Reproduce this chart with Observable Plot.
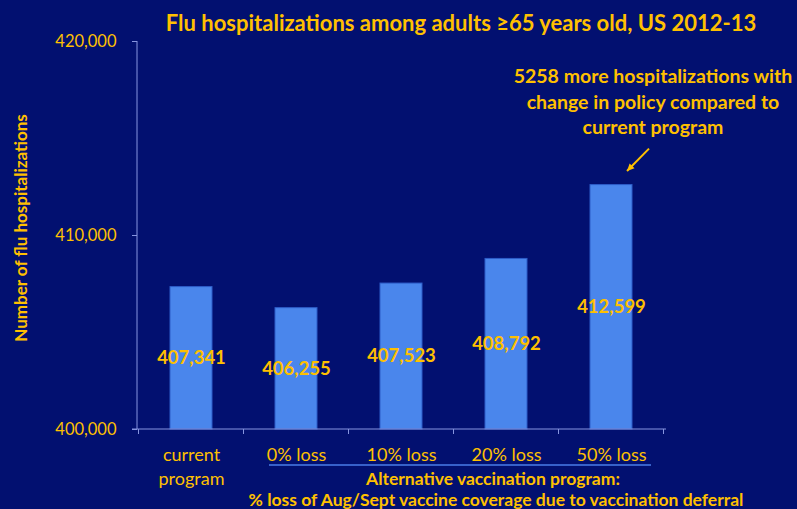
<!DOCTYPE html>
<html>
<head>
<meta charset="utf-8">
<script src="https://cdn.jsdelivr.net/npm/d3@7"></script>
<script src="https://cdn.jsdelivr.net/npm/@observablehq/plot@0.6"></script>
<style>
  html, body { margin: 0; padding: 0; background: #021070; }
  #chart { width: 797px; height: 509px; overflow: hidden; }
</style>
</head>
<body>
<div id="chart"></div>
<script>
const categories = ["current program", "0% loss", "10% loss", "20% loss", "50% loss"];
const tickLabels = ["current\nprogram", "0% loss", "10% loss", "20% loss", "50% loss"];
const values = [407341, 406255, 407523, 408792, 412599];
const yTicks = [400000, 410000, 420000];
const yDomain = [400000, 420000];
const title = "Flu hospitalizations among adults \u226565 years old, US 2012-13";
const yLabel = "Number of flu hospitalizations";
const groupLabel = ["Alternative vaccination program:", "% loss of Aug/Sept vaccine coverage due to vaccination deferral"];
const note = ["5258 more hospitalizations with", "change in policy compared to", "current program"];
const noteArrow = {cat: "50% loss", yFrom: 414450, yTo: 413300};

const GOLD = "#ffc000";
const AXIS = "#8795e0";
const FONT = "Lato, 'DejaVu Sans', sans-serif";

const data = categories.map((c, i) => ({cat: c, value: values[i], label: tickLabels[i]}));
const fmt = d3.format(",");

const plot = Plot.plot({
  width: 797,
  height: 509,
  marginLeft: 137,
  marginRight: 131,
  marginTop: 41,
  marginBottom: 80,
  style: {background: "#021070", fontFamily: FONT, overflow: "visible"},
  x: {domain: categories, paddingInner: 0.6, paddingOuter: 0.3, axis: null},
  y: {domain: yDomain, axis: null},
  marks: [
    Plot.barY(data, {x: "cat", y1: yDomain[0], y2: "value", fill: "#4a86ec", stroke: "#2d5cc8", strokeWidth: 1}),
    Plot.axisY({ticks: yTicks, tickFormat: (d) => fmt(d), label: null, tickSize: 5, tickPadding: 16, stroke: AXIS, fill: GOLD, fontSize: 16.5}),
    Plot.axisX({tickSize: 0, tickPadding: 15, label: null, tickFormat: (d) => tickLabels[categories.indexOf(d)], stroke: AXIS, fill: GOLD, fontSize: 18, lineHeight: 1.3}),
    Plot.text(data, {x: "cat", y: (d) => (yDomain[0] + d.value) / 2, text: (d) => fmt(d.value), fill: GOLD, fontSize: 18.5, fontWeight: "bold"})
  ]
});

const svg = d3.select(plot);
const sx = plot.scale("x");
const sy = plot.scale("y");
const bw = sx.bandwidth;
const step = sx.step;
const gap = step - bw;
const y0 = sy.apply(yDomain[0]);
const yTop = sy.apply(yDomain[1]);
const [xL, xR] = sx.range;

// axis lines
svg.append("line").attr("x1", xL).attr("x2", xL).attr("y1", yTop).attr("y2", y0).attr("stroke", AXIS);
svg.append("line").attr("x1", xL - 5).attr("x2", xR).attr("y1", y0).attr("y2", y0).attr("stroke", AXIS);

// band-boundary ticks on x axis
const bounds = categories.map((c) => sx.apply(c) - gap / 2);
bounds.push(sx.apply(categories[categories.length - 1]) + bw + gap / 2);
svg.append("g").selectAll("line").data(bounds).join("line")
  .attr("x1", (d) => d).attr("x2", (d) => d)
  .attr("y1", y0).attr("y2", y0 + 5)
  .attr("stroke", AXIS);

// underline for alternative programs
const c1 = sx.apply(categories[1]) + bw / 2;
const c5 = sx.apply(categories[4]) + bw / 2;
svg.append("line")
  .attr("x1", c1 - 27).attr("x2", c5 + 40)
  .attr("y1", 465).attr("y2", 465)
  .attr("stroke", "#4a7de8").attr("stroke-width", 1.5);

// group labels (one text, two lines)
const gt = svg.append("text")
  .attr("text-anchor", "middle")
  .attr("font-family", FONT).attr("font-weight", "bold").attr("font-size", 17.5)
  .attr("fill", GOLD);
gt.selectAll("tspan").data(groupLabel).join("tspan")
  .attr("x", (d, i) => i === 0 ? 493 : 496)
  .attr("y", (d, i) => 485 + i * 21)
  .text((d) => d);

// title
svg.append("text")
  .attr("x", 461).attr("y", 22)
  .attr("text-anchor", "middle").attr("dominant-baseline", "central")
  .attr("font-family", FONT).attr("font-weight", "bold").attr("font-size", 22)
  .attr("fill", GOLD).text(title);

// y-axis label
svg.append("text")
  .attr("transform", "translate(20,228) rotate(-90)")
  .attr("text-anchor", "middle").attr("dominant-baseline", "central")
  .attr("font-family", FONT).attr("font-weight", "bold").attr("font-size", 17)
  .attr("fill", GOLD).text(yLabel);

// annotation (one text, three lines)
const nt = svg.append("text")
  .attr("text-anchor", "middle")
  .attr("font-family", FONT).attr("font-weight", "bold").attr("font-size", 19.5)
  .attr("fill", GOLD);
nt.selectAll("tspan").data(note).join("tspan")
  .attr("x", 653)
  .attr("y", (d, i) => 83 + i * 25.5)
  .text((d) => d);

// arrow
const ax = sx.apply(noteArrow.cat) + bw / 2;
const xs = ax + 38, ys = sy.apply(noteArrow.yFrom);
const xe = ax + 16, ye = sy.apply(noteArrow.yTo);
svg.append("line").attr("x1", xs).attr("y1", ys).attr("x2", xe).attr("y2", ye)
  .attr("stroke", GOLD).attr("stroke-width", 2);
const ang = Math.atan2(ye - ys, xe - xs);
const hl = 8, ha = 0.45;
svg.append("path")
  .attr("d", `M${xe},${ye}L${xe - hl * Math.cos(ang - ha)},${ye - hl * Math.sin(ang - ha)}L${xe - hl * Math.cos(ang + ha)},${ye - hl * Math.sin(ang + ha)}Z`)
  .attr("fill", GOLD);

document.getElementById("chart").appendChild(plot);
</script>
</body>
</html>
